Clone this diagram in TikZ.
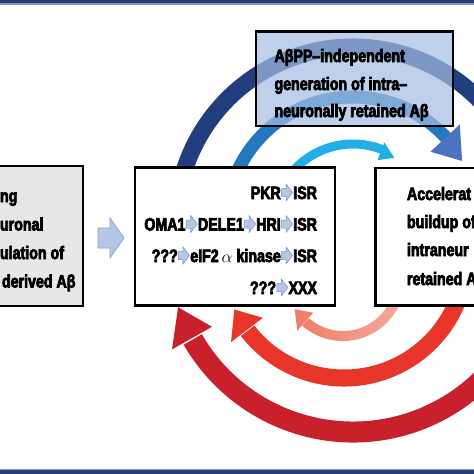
\documentclass[tikz,border=0pt]{standalone}
\usepackage{fontspec}
\setmainfont{Liberation Sans}
\newfontfamily\heavyface{Liberation Sans Bold}[FakeStretch=0.79]
\newcommand{\thickon}{\special{pdf:code 2 Tr 0.7 w}}
\newcommand{\thickoff}{\special{pdf:code 0 Tr}}
\definecolor{navybar}{HTML}{2B3A78}
\definecolor{navyline}{HTML}{8A96C4}
\definecolor{arcnavy}{HTML}{233E7E}
\definecolor{arcmid}{HTML}{2478C0}
\definecolor{arcmidhead}{HTML}{4A74C0}
\definecolor{arccyan}{HTML}{22AEE6}
\definecolor{reddark}{HTML}{C9212B}
\definecolor{redmid}{HTML}{E8362B}
\definecolor{redlightA}{HTML}{EF7F6C}
\definecolor{redlightB}{HTML}{F6AC9C}
\definecolor{boxblue}{HTML}{A3BDE2}
\definecolor{arrfill}{HTML}{B4C7E7}
\definecolor{arredge}{HTML}{6F8FCB}
\definecolor{leftgray}{HTML}{E7E7E7}
% band arc: cx cy R w start end (visual degrees, y up) style
\newcommand{\bandarc}[7]{%
  \begin{scope}[shift={(#1,#2)}]
    \pgfmathsetmacro{\bRo}{#3+#4/2}\pgfmathsetmacro{\bRi}{#3-#4/2}%
    \pgfmathsetmacro{\bAs}{-(#5)}\pgfmathsetmacro{\bAe}{-(#6)}%
    \path[#7] (\bAs:\bRo) arc[start angle=\bAs, end angle=\bAe, radius=\bRo]
      -- (\bAe:\bRi) arc[start angle=\bAe, end angle=\bAs, radius=\bRi] -- cycle;
  \end{scope}}
% arrow head on an arc: cx cy R baseangle tipangle halfwidth style
\newcommand{\headtri}[7]{%
  \begin{scope}[shift={(#1,#2)}]
    \pgfmathsetmacro{\hAb}{-(#4)}\pgfmathsetmacro{\hAt}{-(#5)}%
    \pgfmathsetmacro{\hRo}{#3+#6}\pgfmathsetmacro{\hRi}{#3-#6}%
    \path[#7] (\hAb:\hRi) -- (\hAb:\hRo) -- (\hAt:#3) -- cycle;
  \end{scope}}
\newcommand{\inarr}{\thickoff\kern0.5pt\tikz[baseline=0pt,x=1pt,y=1pt,line join=miter]\draw[line width=0.5pt,draw=arredge,fill=arrfill](0,2.5)--(4.5,2.5)--(4.5,-2)--(11,6.5)--(4.5,15)--(4.5,10.5)--(0,10.5)--cycle;\kern0.5pt\thickon}
\newcommand{\heavytext}[1]{\thickon#1\thickoff}
\begin{document}
\begin{tikzpicture}[x=1pt,y=-1pt,
  box/.style={draw=black, line width=2.4pt, outer sep=0pt, inner sep=0pt, anchor=north west},
  txt/.style={font=\heavyface\fontsize{18}{21}\selectfont, inner sep=0pt, outer sep=0pt, text=black},
]
\useasboundingbox (0,0) rectangle (474,474);
\clip (0,0) rectangle (474,474);
\fill[white] (0,0) rectangle (474,474);
% frame bars
\fill[navybar] (0,0) rectangle (474,3.3);
\fill[navyline] (0,3.3) rectangle (474,4.6);
\fill[navyline] (0,468.6) rectangle (474,469.6);
\fill[navybar] (0,469.6) rectangle (474,474);
% blue arcs
\bandarc{353}{224}{177}{17}{172}{25}{fill=arcnavy}
\bandarc{353}{224}{127}{13}{165}{42.5}{fill=arcmid}
\headtri{353}{224}{126}{43}{30}{20}{fill=arcmidhead}
\bandarc{353}{224}{80}{9}{145}{68.5}{fill=arccyan}
\headtri{353}{224}{78}{69}{58}{9.5}{fill=arccyan}
% red arcs
\bandarc{353}{247}{185}{21}{-15}{-150}{fill=reddark}
\headtri{353}{247}{185}{-150.5}{-161}{23}{fill=reddark}
\bandarc{344}{256}{122}{17}{-10}{-142.2}{fill=redmid}
\headtri{344}{256}{122}{-142.7}{-154}{20}{fill=redmid}
\bandarc{343}{279}{57}{10}{-15}{-131}{left color=redlightA,right color=redlightB}
\headtri{343}{279}{57}{-131.5}{-148}{12}{fill=redlightA}
% boxes
\node[box, fill=leftgray, minimum width=95pt, minimum height=140pt] (leftbox) at (-12,166) {};
\node[box, fill=white, minimum width=200pt, minimum height=138pt] (midbox) at (135,167.5) {};
\node[box, fill=white, minimum width=120pt, minimum height=137.5pt] (rightbox) at (375.5,168) {};
\node[box, fill=boxblue, fill opacity=0.7, text opacity=1, minimum width=197pt, minimum height=94.5pt] (topbox) at (256,31.5) {};
% block arrow between left and middle box
\draw[line width=0.8pt, draw=arredge!80, fill=arrfill, line join=miter]
  (98,228) -- (110,228) -- (110,218) -- (124,238) -- (110,258) -- (110,248) -- (98,248) -- cycle;
% left box text
\node[txt, anchor=base west] (l1) at (0,202) {\heavytext{ng}};
\node[txt, anchor=base west] (l2) at (0,230.5) {\heavytext{uronal}};
\node[txt, anchor=base west] (l3) at (0,259) {\heavytext{ulation of}};
\node[txt, anchor=base west] (l4) at (2,287.5) {\heavytext{derived Aβ}};
% middle box text
\node[txt, anchor=base east] (m1) at (317,199) {\heavytext{PKR\inarr ISR}};
\node[txt, anchor=base east] (m2) at (317,230.5) {\heavytext{OMA1\inarr DELE1\inarr HRI\inarr ISR}};
\node[txt, anchor=base east] (m3) at (317,262) {\heavytext{???\inarr eIF2\,{\thickoff\fontsize{16}{16}\selectfont$\alpha$\thickon} kinase\inarr ISR}};
\node[txt, anchor=base east] (m4) at (317,294) {\heavytext{???\inarr XXX}};
% right box text
\node[txt, anchor=base west] (r1) at (407,200) {\heavytext{Accelerat}};
\node[txt, anchor=base west] (r2) at (407,228) {\heavytext{buildup of}};
\node[txt, anchor=base west] (r3) at (407,256) {\heavytext{intraneur}};
\node[txt, anchor=base west] (r4) at (407,285) {\heavytext{retained A}};
% top box text
\node[txt, anchor=base west] (t1) at (274.5,62) {\heavytext{AβPP–independent}};
\node[txt, anchor=base west] (t2) at (274.5,90) {\heavytext{generation of intra–}};
\node[txt, anchor=base west] (t3) at (274.5,117) {\heavytext{neuronally retained Aβ}};
\end{tikzpicture}
\end{document}
